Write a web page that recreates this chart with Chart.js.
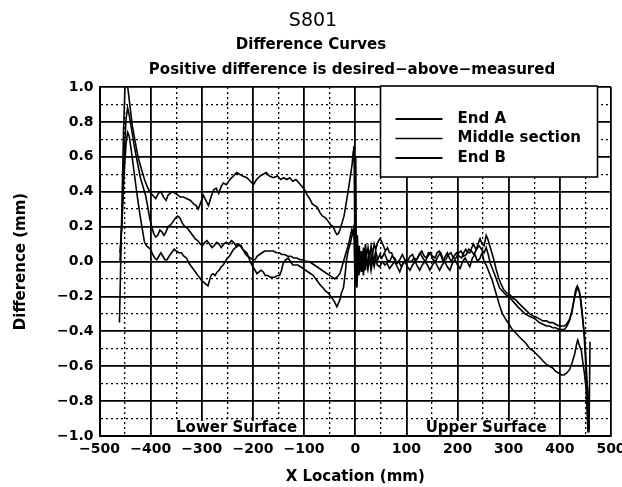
<!DOCTYPE html>
<html>
<head>
<meta charset="utf-8">
<script src="https://cdn.jsdelivr.net/npm/chart.js@4.4.0/dist/chart.umd.min.js"></script>
<style>
  html, body { margin: 0; padding: 0; background: #fff; }
  #wrap { width: 622px; height: 487px; }
</style>
</head>
<body>
<div id="wrap"><canvas id="diffChart" width="622" height="487"></canvas></div>
<script>
// values (mm)
const seriesLabels = ['End A', 'Middle section', 'End B'];

const xEndA = [-461, -457, -453, -450, -447, -444, -440, -436, -431, -426, -422, -417, -412, -407, -402,
  -396, -390, -385, -380, -375, -370, -366, -362, -357, -352, -347, -342, -336, -329, -322, -316, -311,
  -307, -302, -297, -292, -287, -282, -277, -272, -267, -262, -258, -252, -245, -238, -232, -226, -220,
  -212, -205, -199, -193, -186, -180, -174, -168, -160, -152, -146, -140, -134, -128, -122, -116, -110,
  -104, -99, -94, -89, -84, -79, -74, -69, -64, -58, -53, -48, -43, -39, -36, -33, -30, -26, -22, -18,
  -14, -11, -8, -6, -4, -3, -2, -1, 0, 1, 2, 3, 4, 6, 8, 10, 12, 14, 16, 18, 20, 22, 25, 28, 31, 34, 37,
  40, 44, 48, 51, 55, 59, 63, 67, 71, 75, 80, 85, 90, 95, 100, 105, 110, 115, 120, 125, 130, 135, 139,
  143, 146, 151, 156, 160, 164, 168, 172, 176, 180, 184, 188, 193, 198, 203, 208, 212, 216, 220, 224,
  228, 231, 234, 237, 240, 244, 248, 252, 256, 259, 262, 266, 270, 275, 280, 285, 290, 296, 302, 308,
  314, 320, 327, 334, 341, 347, 354, 361, 367, 374, 380, 386, 392, 398, 403, 408, 413, 419, 424, 428,
  432, 435, 438, 441, 444, 447, 450, 452, 454, 456, 457, 459];
const yEndA = [-0.35, 0.2, 0.75, 1.02, 1.05, 0.98, 0.88, 0.78, 0.7, 0.62, 0.57, 0.52, 0.47, 0.43, 0.40,
  0.38, 0.36, 0.39, 0.40, 0.37, 0.35, 0.38, 0.39, 0.40, 0.39, 0.38, 0.37, 0.37, 0.36, 0.35, 0.33, 0.32,
  0.30, 0.34, 0.38, 0.35, 0.32, 0.37, 0.41, 0.42, 0.39, 0.43, 0.45, 0.44, 0.47, 0.49, 0.51, 0.50, 0.49,
  0.48, 0.46, 0.44, 0.47, 0.49, 0.50, 0.51, 0.49, 0.48, 0.49, 0.47, 0.48, 0.47, 0.48, 0.46, 0.47, 0.45,
  0.43, 0.41, 0.38, 0.36, 0.33, 0.32, 0.31, 0.28, 0.26, 0.25, 0.23, 0.21, 0.20, 0.17, 0.155, 0.16, 0.18,
  0.22, 0.26, 0.33, 0.40, 0.46, 0.52, 0.56, 0.63, 0.66, 0.55, 0.20, 0.52, 0.60, 0.10, -0.12, 0.15, 0.02,
  0.09, -0.04, 0.06, 0.0, 0.08, 0.02, 0.10, 0.03, 0.08, 0.02, 0.09, 0.04, 0.10, 0.07, 0.11, 0.13, 0.12,
  0.09, 0.06, 0.08, 0.05, 0.05, 0.02, -0.01, 0.0, -0.03, 0.0, 0.01, 0.0, 0.0, 0.02, 0.01, 0.04, 0.06,
  0.03, 0.02, 0.05, 0.05, 0.03, 0.02, 0.05, 0.06, 0.03, 0.0, 0.03, 0.05, 0.02, 0.0, 0.03, 0.05, 0.03,
  0.02, 0.05, 0.07, 0.05, 0.05, 0.08, 0.10, 0.08, 0.07, 0.10, 0.13, 0.10, 0.09, 0.15, 0.13, 0.10, 0.06,
  0.02, -0.04, -0.09, -0.13, -0.16, -0.18, -0.19, -0.21, -0.22, -0.24, -0.26, -0.28, -0.30, -0.31,
  -0.32, -0.33, -0.34, -0.34, -0.35, -0.35, -0.36, -0.37, -0.37, -0.37, -0.36, -0.33, -0.28, -0.22,
  -0.17, -0.15, -0.17, -0.22, -0.30, -0.40, -0.55, -0.68, -0.72, -0.88, -0.98, -0.46];

const xMiddle = [-460, -456, -452, -448, -445, -442, -438, -433, -428, -424, -420, -415, -410, -406, -402,
  -398, -394, -390, -386, -382, -378, -374, -370, -366, -361, -356, -351, -347, -343, -338, -333, -328,
  -323, -318, -313, -308, -303, -299, -294, -290, -285, -280, -276, -271, -266, -262, -257, -252, -247,
  -242, -238, -233, -228, -223, -218, -214, -210, -205, -200, -196, -192, -187, -182, -177, -172, -166,
  -160, -154, -148, -144, -138, -132, -126, -120, -114, -108, -102, -96, -90, -85, -80, -75, -70, -65,
  -60, -55, -50, -45, -40, -36, -33, -30, -27, -24, -20, -17, -13, -10, -7, -5, -3, -2, -1, 0, 1, 2, 3,
  5, 7, 9, 11, 13, 15, 17, 19, 21, 24, 27, 30, 33, 36, 40, 44, 48, 52, 57, 62, 67, 72, 77, 82, 87, 92,
  97, 102, 107, 112, 117, 122, 127, 132, 137, 142, 147, 152, 157, 162, 167, 172, 177, 182, 187, 192,
  197, 202, 207, 212, 217, 222, 227, 232, 237, 242, 247, 252, 256, 260, 264, 268, 272, 277, 282, 288,
  294, 300, 306, 312, 318, 325, 332, 338, 345, 352, 360, 367, 374, 380, 386, 392, 398, 404, 409, 414,
  419, 424, 428, 431, 434, 437, 440, 443, 446, 449, 452, 455, 457];
const yMiddle = [0.0, 0.25, 0.6, 0.82, 0.88, 0.84, 0.77, 0.68, 0.60, 0.54, 0.48, 0.43, 0.38, 0.32, 0.25,
  0.20, 0.16, 0.14, 0.15, 0.18, 0.17, 0.15, 0.17, 0.20, 0.21, 0.23, 0.25, 0.26, 0.25, 0.22, 0.20, 0.19,
  0.17, 0.15, 0.13, 0.12, 0.10, 0.09, 0.11, 0.12, 0.10, 0.08, 0.09, 0.11, 0.10, 0.08, 0.10, 0.11, 0.10,
  0.12, 0.11, 0.09, 0.10, 0.09, 0.06, 0.04, 0.03, 0.02, 0.01, 0.01, 0.03, 0.04, 0.05, 0.06, 0.06, 0.06,
  0.06, 0.05, 0.05, 0.04, 0.04, 0.03, 0.03, 0.02, 0.02, 0.01, 0.01, 0.0, 0.0, -0.01, -0.02, -0.03, -0.04,
  -0.05, -0.06, -0.07, -0.08, -0.09, -0.10, -0.09, -0.08, -0.07, -0.04, -0.01, 0.03, 0.06, 0.10, 0.14,
  0.18, 0.16, 0.19, 0.12, -0.05, 0.15, -0.08, 0.12, -0.15, 0.05, -0.08, 0.06, -0.05, 0.04, -0.06, 0.03,
  -0.04, 0.05, -0.03, 0.04, -0.02, 0.05, 0.0, 0.06, 0.01, 0.04, 0.02, 0.05, 0.01, 0.0, 0.03, 0.02, -0.01,
  0.01, 0.04, 0.01, 0.0, 0.03, 0.04, 0.0, 0.02, 0.05, 0.02, 0.0, 0.03, 0.05, 0.01, 0.0, 0.03, 0.05, 0.01,
  0.01, 0.04, 0.05, 0.02, 0.02, 0.05, 0.06, 0.03, 0.04, 0.07, 0.06, 0.04, 0.07, 0.09, 0.07, 0.05, 0.08,
  0.04, -0.01, -0.04, -0.07, -0.11, -0.15, -0.17, -0.19, -0.20, -0.22, -0.24, -0.26, -0.28, -0.30, -0.31,
  -0.32, -0.33, -0.35, -0.36, -0.37, -0.37, -0.38, -0.38, -0.39, -0.39, -0.39, -0.37, -0.34, -0.28,
  -0.21, -0.16, -0.14, -0.16, -0.21, -0.29, -0.37, -0.45, -0.62, -0.80, -0.96];

const xEndB = [-460, -456, -452, -448, -445, -442, -438, -434, -430, -426, -421, -416, -412, -408, -404,
  -400, -396, -392, -388, -384, -380, -376, -372, -368, -364, -359, -354, -350, -345, -340, -335, -330,
  -325, -320, -315, -310, -305, -300, -296, -292, -288, -285, -282, -278, -274, -270, -266, -262, -258,
  -254, -250, -246, -242, -238, -234, -229, -225, -220, -216, -212, -208, -204, -200, -196, -192, -188,
  -184, -180, -176, -171, -166, -161, -157, -152, -148, -144, -141, -136, -131, -127, -122, -117, -112,
  -107, -102, -97, -92, -87, -82, -77, -72, -67, -63, -58, -53, -48, -43, -39, -36, -33, -30, -27, -23,
  -20, -17, -14, -10, -7, -4, -2, -1, 0, 1, 2, 3, 4, 6, 8, 10, 12, 14, 16, 18, 20, 22, 25, 28, 31, 34, 37,
  40, 43, 48, 53, 58, 62, 67, 72, 77, 82, 87, 92, 97, 102, 107, 112, 117, 122, 126, 131, 136, 141, 146,
  151, 156, 161, 165, 170, 175, 180, 185, 190, 195, 200, 205, 210, 215, 220, 224, 229, 234, 239, 244,
  248, 252, 256, 260, 264, 268, 272, 276, 280, 284, 288, 292, 296, 301, 307, 314, 320, 327, 334, 341,
  347, 354, 361, 367, 374, 380, 386, 392, 398, 403, 408, 413, 419, 424, 429, 433, 435, 438, 442, 445,
  448, 451, 453, 455];
const yEndB = [0.05, 0.22, 0.5, 0.68, 0.74, 0.72, 0.64, 0.55, 0.46, 0.37, 0.27, 0.18, 0.11, 0.09, 0.08,
  0.07, 0.04, 0.02, 0.01, 0.03, 0.05, 0.03, 0.01, 0.01, 0.03, 0.05, 0.07, 0.06, 0.05, 0.05, 0.03, 0.02,
  -0.01, -0.03, -0.05, -0.07, -0.09, -0.11, -0.12, -0.13, -0.14, -0.11, -0.08, -0.07, -0.08, -0.06,
  -0.05, -0.03, -0.02, 0.0, 0.02, 0.03, 0.05, 0.07, 0.08, 0.09, 0.09, 0.07, 0.06, 0.05, 0.02, -0.01,
  -0.03, -0.05, -0.07, -0.06, -0.05, -0.06, -0.08, -0.08, -0.09, -0.09, -0.09, -0.08, -0.08, -0.05,
  -0.01, 0.01, 0.02, 0.0, -0.02, -0.02, -0.02, -0.03, -0.04, -0.05, -0.06, -0.07, -0.08, -0.10, -0.12,
  -0.14, -0.15, -0.17, -0.18, -0.20, -0.22, -0.24, -0.26, -0.24, -0.22, -0.18, -0.15, -0.08, 0.01, 0.06,
  0.10, 0.14, 0.18, 0.20, 0.05, -0.12, 0.18, -0.14, 0.08, -0.10, 0.05, -0.07, 0.04, -0.06, 0.02, -0.08,
  0.0, -0.05, 0.03, -0.04, 0.02, -0.05, 0.01, -0.03, 0.02, -0.02, -0.03, 0.0, -0.02, -0.01, -0.04, -0.02,
  0.0, -0.03, -0.06, -0.02, 0.0, -0.03, -0.05, -0.02, 0.0, -0.03, -0.05, -0.02, 0.0, -0.02, -0.05, -0.02,
  0.0, -0.03, -0.05, -0.02, 0.0, -0.03, -0.05, -0.01, 0.01, -0.02, -0.04, 0.0, 0.02, -0.01, -0.03, 0.02,
  0.04, 0.0, 0.02, 0.05, 0.0, -0.02, -0.05, -0.08, -0.11, -0.15, -0.19, -0.23, -0.27, -0.30, -0.32,
  -0.34, -0.36, -0.39, -0.41, -0.43, -0.45, -0.47, -0.50, -0.51, -0.53, -0.55, -0.57, -0.59, -0.60,
  -0.61, -0.63, -0.64, -0.65, -0.65, -0.64, -0.62, -0.58, -0.53, -0.47, -0.45, -0.48, -0.51, -0.58,
  -0.64, -0.72, -0.85, -0.98];

const titleLines = ['S801', 'Difference Curves', 'Positive difference is desired\u2212above\u2212measured'];
const surfaceLabels = [{ text: 'Lower Surface', x: -232 }, { text: 'Upper Surface', x: 256 }];

const FONT = "'DejaVu Sans', sans-serif";
const minus = v => String(v).replace('-', '\u2212');

function toPoints(xs, ys) {
  return xs.map((x, i) => ({ x: x, y: ys[i] }));
}

function isMajor(scale, value) {
  const step = scale.axis === 'x' ? 100 : 0.2;
  const r = value / step;
  return Math.abs(r - Math.round(r)) < 1e-6;
}

// draws the three title lines
const titlePlugin = {
  id: 'titleText',
  afterDraw(chart) {
    const ctx = chart.ctx;
    ctx.save();
    ctx.fillStyle = '#000';
    ctx.textAlign = 'center';
    ctx.textBaseline = 'middle';
    ctx.font = '19px ' + FONT;
    ctx.fillText(titleLines[0], 313, 21);
    ctx.font = 'bold 15px ' + FONT;
    ctx.fillText(titleLines[1], 311, 45);
    ctx.fillText(titleLines[2], 352, 70);
    ctx.restore();
  }
};

// legend box drawn inside the plot, upper right
const boxLegend = {
  id: 'boxLegend',
  afterDatasetsDraw(chart) {
    const ctx = chart.ctx;
    const area = chart.chartArea;
    const left = area.left + 281, top = area.top - 1;
    const w = 217, h = 91;
    ctx.save();
    ctx.fillStyle = '#fff';
    ctx.fillRect(left, top, w, h);
    ctx.strokeStyle = '#000';
    ctx.lineWidth = 1.6;
    ctx.strokeRect(left, top, w, h);
    ctx.font = 'bold 15px ' + FONT;
    ctx.textBaseline = 'middle';
    ctx.fillStyle = '#000';
    chart.data.datasets.forEach((ds, i) => {
      const y = top + 33 + i * 19.5;
      ctx.beginPath();
      ctx.lineWidth = i === 1 ? 1.5 : 2;
      ctx.moveTo(left + 15, y);
      ctx.lineTo(left + 62, y);
      ctx.stroke();
      ctx.fillText(ds.label, left + 77, y);
    });
    ctx.restore();
  }
};

// "Lower Surface" / "Upper Surface" along the bottom of the plot
const surfacePlugin = {
  id: 'surfaceText',
  afterDatasetsDraw(chart) {
    const ctx = chart.ctx;
    const xs = chart.scales.x;
    const bottom = chart.chartArea.bottom;
    ctx.save();
    ctx.font = 'bold 15px ' + FONT;
    ctx.textAlign = 'center';
    ctx.textBaseline = 'bottom';
    surfaceLabels.forEach(s => {
      const cx = xs.getPixelForValue(s.x);
      const tw = ctx.measureText(s.text).width;
      ctx.fillStyle = '#fff';
      ctx.fillRect(cx - tw / 2 - 1, bottom - 15, tw + 2, 14);
      ctx.fillStyle = '#000';
      ctx.fillText(s.text, cx, bottom);
    });
    ctx.restore();
  }
};

const lineStyle = {
  borderColor: '#000',
  borderWidth: 1.6,
  pointRadius: 0,
  tension: 0,
  fill: false
};

const gridStyle = {
  color: '#000',
  lineWidth: c => (c.tick && isMajor(c.scale, c.tick.value)) ? 1.8 : 1.3,
  drawTicks: false
};

const borderStyle = {
  color: '#000',
  width: 2,
  dash: c => (c.tick && !isMajor(c.scale, c.tick.value)) ? [2, 3] : []
};

new Chart(document.getElementById('diffChart').getContext('2d'), {
  type: 'line',
  data: {
    datasets: [
      Object.assign({ label: seriesLabels[0], data: toPoints(xEndA, yEndA) }, lineStyle),
      Object.assign({ label: seriesLabels[1], data: toPoints(xMiddle, yMiddle) }, lineStyle),
      Object.assign({ label: seriesLabels[2], data: toPoints(xEndB, yEndB) }, lineStyle)
    ]
  },
  options: {
    responsive: false,
    animation: false,
    layout: { padding: { left: 10, right: 11, top: 87, bottom: 0 } },
    plugins: {
      legend: { display: false },
      title: { display: false },
      tooltip: { enabled: false }
    },
    scales: {
      x: {
        type: 'linear',
        min: -500,
        max: 500,
        afterFit: s => { s.height = 51; s.paddingLeft = 0; s.paddingRight = 0; },
        ticks: {
          stepSize: 50,
          autoSkip: false,
          maxRotation: 0,
          padding: 5,
          color: '#000',
          font: { family: FONT, size: 14, weight: 'bold' },
          callback: v => (v % 100 === 0 ? minus(v) : '')
        },
        grid: gridStyle,
        border: borderStyle,
        title: {
          display: true,
          text: 'X Location (mm)',
          color: '#000',
          font: { family: FONT, size: 15, weight: 'bold' },
          padding: { top: 0, bottom: 1 }
        }
      },
      y: {
        min: -1,
        max: 1,
        afterFit: s => { s.width = 89.5; s.paddingTop = 0; s.paddingBottom = 0; },
        ticks: {
          stepSize: 0.1,
          autoSkip: false,
          padding: 6,
          color: '#000',
          font: { family: FONT, size: 14, weight: 'bold' },
          callback: v => {
            const r = Math.round(v * 10);
            return r % 2 === 0 ? minus((r / 10).toFixed(1)) : '';
          }
        },
        grid: gridStyle,
        border: borderStyle,
        title: {
          display: true,
          text: 'Difference (mm)',
          color: '#000',
          font: { family: FONT, size: 15, weight: 'bold' },
          padding: { top: 2, bottom: 4 }
        }
      }
    }
  },
  plugins: [titlePlugin, boxLegend, surfacePlugin]
});
</script>
</body>
</html>
